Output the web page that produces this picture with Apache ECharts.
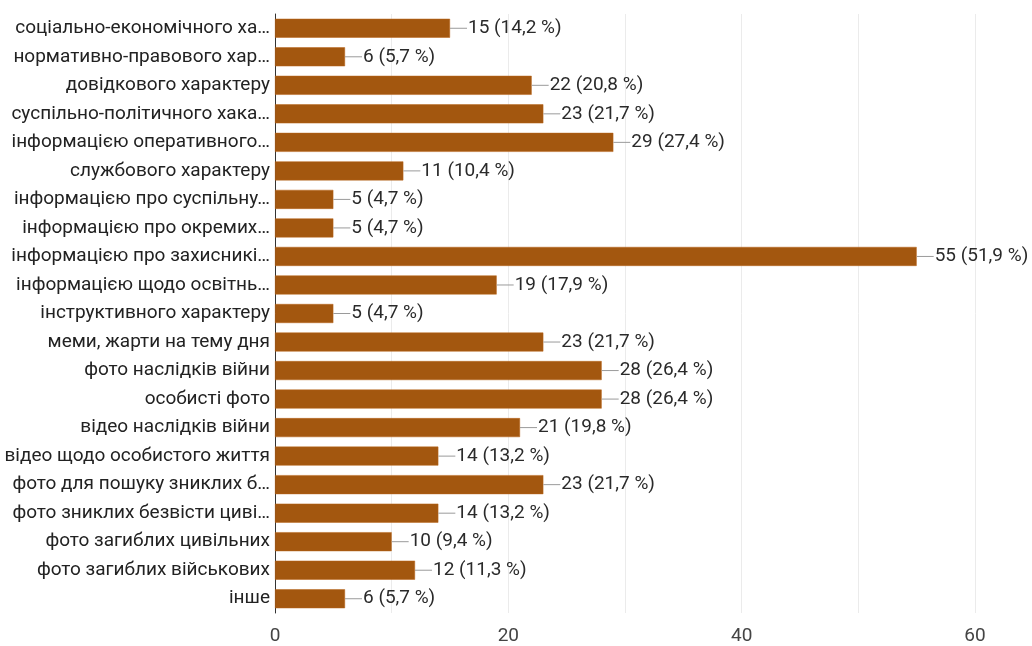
<!DOCTYPE html>
<html>
<head>
<meta charset="utf-8">
<script src="https://cdn.jsdelivr.net/npm/echarts@6/dist/echarts.min.js"></script>
<style>
  html,body{margin:0;padding:0;background:#fff;}
  #chart{width:1032px;height:646px;}
</style>
</head>
<body>
<div id="chart"></div>
<script>
  // категорії згори вниз
  const categories = [
    'соціально-економічного ха…',
    'нормативно-правового хар…',
    'довідкового характеру',
    'суспільно-політичного хака…',
    'інформацією оперативного…',
    'службового характеру',
    'інформацією про суспільну…',
    'інформацією про окремих…',
    'інформацією про захисникі…',
    'інформацією щодо освітнь…',
    'інструктивного характеру',
    'меми, жарти на тему дня',
    'фото наслідків війни',
    'особисті фото',
    'відео наслідків війни',
    'відео щодо особистого життя',
    'фото для пошуку зниклих б…',
    'фото зниклих безвісти циві…',
    'фото загиблих цивільних',
    'фото загиблих військових',
    'інше'
  ];
  const counts = [15, 6, 22, 23, 29, 11, 5, 5, 55, 19, 5, 23, 28, 28, 21, 14, 23, 14, 10, 12, 6];
  const percents = ['14,2', '5,7', '20,8', '21,7', '27,4', '10,4', '4,7', '4,7', '51,9', '17,9', '4,7',
                    '21,7', '26,4', '26,4', '19,8', '13,2', '21,7', '13,2', '9,4', '11,3', '5,7'];
  const xTicks = [0, 20, 40, 60];

  const chart = echarts.init(document.getElementById('chart'));
  chart.setOption({
    animation: false,
    textStyle: { fontFamily: 'Roboto' },
    grid: { left: 275, right: 57, top: 14, bottom: 32 },
    xAxis: {
      type: 'value',
      min: 0, max: 60, interval: 10,
      axisLine: { show: false },
      axisTick: { show: false },
      splitLine: { show: true, lineStyle: { color: '#ebebeb', width: 1 } },
      axisLabel: {
        color: '#444', fontSize: 19, margin: 14,
        formatter: v => (xTicks.indexOf(v) >= 0 ? String(v) : '')
      }
    },
    yAxis: {
      type: 'category',
      inverse: true,
      data: categories,
      axisLine: { show: true, lineStyle: { color: '#333', width: 1 } },
      axisTick: { show: false },
      axisLabel: { color: '#222', fontSize: 19, margin: 5 }
    },
    series: [{
      type: 'bar',
      data: counts,
      barWidth: 19,
      itemStyle: { color: '#a3570f', borderColor: '#b8651a', borderWidth: 0.5 },
      label: {
        show: true,
        position: 'right',
        distance: 0,
        formatter: p => '{ln|}{t|' + p.value + ' (' + percents[p.dataIndex] + ' %)}',
        rich: {
          ln: { width: 17, height: 1, backgroundColor: '#9a9a9a' },
          t: { fontSize: 19, color: '#2a2a2a', fontFamily: 'Roboto', padding: [0, 0, 0, 1] }
        }
      }
    }]
  });
</script>
</body>
</html>
